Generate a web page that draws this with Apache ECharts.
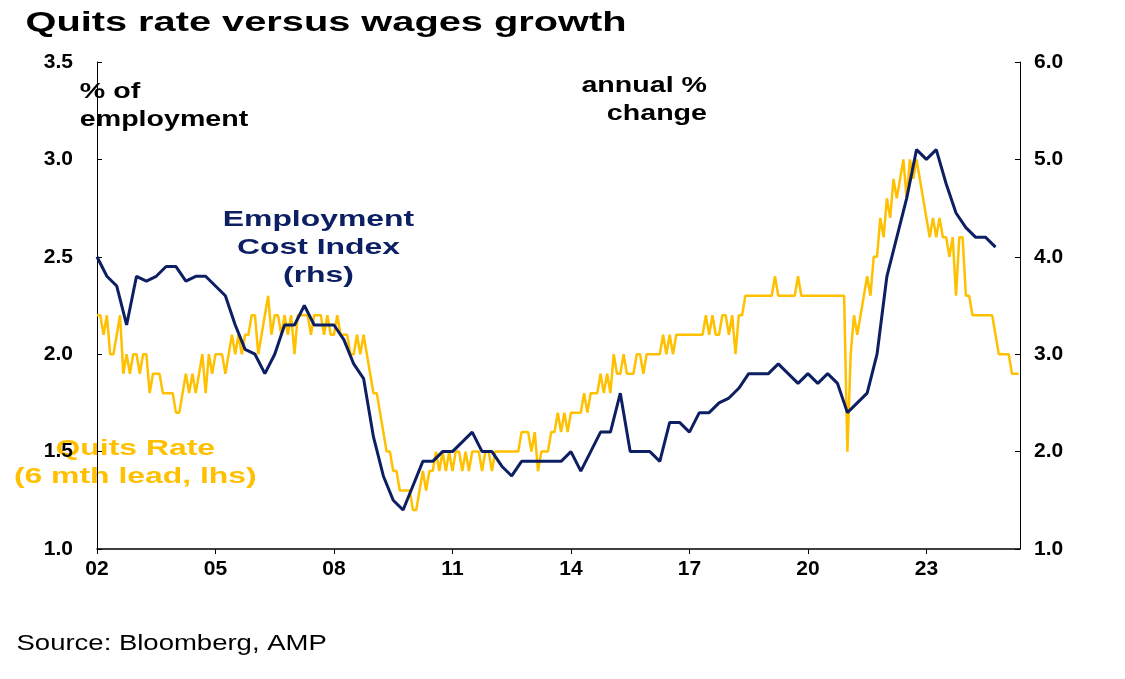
<!DOCTYPE html>
<html><head><meta charset="utf-8">
<script src="https://cdn.jsdelivr.net/npm/echarts@6/dist/echarts.min.js"></script>
<style>html,body{margin:0;padding:0;background:#fff}#c{width:1125px;height:679px}</style>
</head><body><div id="c"></div>
<script>
// ECI, annual % change, quarterly from 2002 Q1 (rhs)
var eciValues=[4.0,3.8,3.7,3.3,3.8,3.75,3.8,3.9,3.9,3.75,3.8,3.8,3.7,3.6,3.3,3.05,3.0,2.8,3.0,3.3,
3.3,3.5,3.3,3.3,3.3,3.15,2.9,2.75,2.15,1.75,1.5,1.4,1.65,1.9,1.9,2.0,2.0,2.1,2.2,2.0,
2.0,1.85,1.75,1.9,1.9,1.9,1.9,1.9,2.0,1.8,2.0,2.2,2.2,2.6,2.0,2.0,2.0,1.9,2.3,2.3,
2.2,2.4,2.4,2.5,2.55,2.65,2.8,2.8,2.8,2.9,2.8,2.7,2.8,2.7,2.8,2.7,2.4,2.5,2.6,3.0,
3.8,4.2,4.6,5.1,5.0,5.1,4.75,4.45,4.3,4.2,4.2,4.1];
// Quits rate, % of employment, monthly from Jan 2002, 6 month lead (lhs)
var quitsValues=[
2.2,2.2,2.1,2.2,2.0,2.0,2.1,2.2,1.9,2.0,1.9,2.0,
2.0,1.9,2.0,2.0,1.8,1.9,1.9,1.9,1.8,1.8,1.8,1.8,
1.7,1.7,1.8,1.9,1.8,1.9,1.8,1.9,2.0,1.8,2.0,1.9,
2.0,2.0,2.0,1.9,2.0,2.1,2.0,2.1,2.0,2.1,2.1,2.2,
2.2,2.0,2.1,2.2,2.3,2.1,2.2,2.2,2.1,2.2,2.1,2.2,
2.0,2.2,2.2,2.2,2.2,2.1,2.2,2.2,2.2,2.1,2.2,2.1,
2.1,2.2,2.1,2.1,2.1,2.0,2.0,2.1,2.0,2.1,2.0,1.9,
1.8,1.8,1.7,1.6,1.5,1.5,1.4,1.4,1.3,1.3,1.3,1.3,
1.2,1.2,1.3,1.4,1.3,1.4,1.4,1.5,1.4,1.5,1.4,1.5,
1.4,1.5,1.5,1.4,1.5,1.4,1.5,1.5,1.5,1.4,1.5,1.5,
1.4,1.5,1.5,1.5,1.5,1.5,1.5,1.5,1.5,1.6,1.6,1.6,
1.5,1.6,1.4,1.5,1.5,1.5,1.6,1.6,1.7,1.6,1.7,1.6,
1.7,1.7,1.7,1.7,1.8,1.7,1.8,1.8,1.8,1.9,1.8,1.9,
1.8,2.0,1.9,1.9,2.0,1.9,1.9,1.9,2.0,2.0,1.9,2.0,
2.0,2.0,2.0,2.0,2.1,2.0,2.1,2.0,2.1,2.1,2.1,2.1,
2.1,2.1,2.1,2.1,2.1,2.2,2.1,2.2,2.1,2.1,2.2,2.2,
2.1,2.2,2.0,2.2,2.2,2.3,2.3,2.3,2.3,2.3,2.3,2.3,
2.3,2.3,2.4,2.3,2.3,2.3,2.3,2.3,2.3,2.4,2.3,2.3,
2.3,2.3,2.3,2.3,2.3,2.3,2.3,2.3,2.3,2.3,2.3,2.3,
1.5,2.0,2.2,2.1,2.2,2.3,2.4,2.3,2.5,2.5,2.7,2.6,
2.8,2.7,2.9,2.8,2.9,3.0,2.8,3.0,2.9,3.0,2.9,2.8,
2.7,2.6,2.7,2.6,2.7,2.6,2.6,2.5,2.6,2.3,2.6,2.6,
2.3,2.3,2.2,2.2,2.2,2.2,2.2,2.2,2.2,2.1,2.0,2.0,
2.0,2.0,1.9,1.9,1.9];
var startYear=2002;
var leftTicks=[1.0,3.5,0.5];   // min,max,interval
var rightTicks=[1.0,6.0,1.0];

var eciData=eciValues.map(function(v,i){return [i/4,v];});
var quitsData=quitsValues.map(function(v,i){return [i/12,v];});

var chart=echarts.init(document.getElementById('c'));
var font='Arial, "Liberation Sans", sans-serif';
var labelFont={fontFamily:font,fontSize:21,fontWeight:'bold',color:'#000'};
function wide(x,y,text,size,color,align,sx,bold){
    return {type:'text',x:x,y:y,scaleX:sx,originX:x,originY:y,
        style:{text:text,font:(bold?'bold ':'')+size+'px '+font,fill:color,align:align,lineHeight:Math.round(size*1.25)}};
}
chart.setOption({
    animation:false,
    grid:{left:97,right:105,top:62,bottom:130},
    xAxis:{type:'value',min:0,max:23.37,interval:3,
        axisLine:{lineStyle:{color:'#000',width:1.5}},
        axisTick:{show:true,length:5,lineStyle:{color:'#000'}},
        splitLine:{show:false},
        axisLabel:Object.assign({margin:10,
            formatter:function(v){var y=(startYear+v)%100;return (y<10?'0':'')+y;}},labelFont)},
    yAxis:[{type:'value',min:leftTicks[0],max:leftTicks[1],interval:leftTicks[2],
        axisLine:{show:true,lineStyle:{color:'#000',width:1}},axisTick:{show:true,length:5,inside:true,lineStyle:{color:'#000'}},
        splitLine:{show:false},
        axisLabel:Object.assign({margin:24,formatter:function(v){return v.toFixed(1);}},labelFont)},
        {type:'value',min:rightTicks[0],max:rightTicks[1],interval:rightTicks[2],
        axisLine:{show:true,lineStyle:{color:'#000',width:1}},axisTick:{show:true,length:5,inside:true,lineStyle:{color:'#000'}},
        splitLine:{show:false},
        axisLabel:Object.assign({margin:14,formatter:function(v){return v.toFixed(1);}},labelFont)}],
    series:[
        {name:'Quits Rate',type:'line',yAxisIndex:0,data:quitsData,showSymbol:false,
            lineStyle:{color:'#FFC000',width:2.5},itemStyle:{color:'#FFC000'}},
        {name:'Employment Cost Index',type:'line',yAxisIndex:1,data:eciData,showSymbol:false,
            lineStyle:{color:'#0D1F63',width:3},itemStyle:{color:'#0D1F63'}}
    ],
    graphic:[
        wide(562,6,'Quits rate versus wages growth',28,'#000','center',1.42,true),
        wide(114,78,'% of\nemployment',22,'#000','left',1.3,true),
        wide(1010,72,'annual %\nchange',22,'#000','right',1.3,true),
        wide(579,206,'Employment\nCost Index\n(rhs)',22,'#0D1F63','center',1.45,true),
        wide(246,435,'Quits Rate\n(6 mth lead, lhs)',22,'#FFC000','center',1.45,true),
        wide(22,630,'Source: Bloomberg, AMP',22,'#000','left',1.25,false)
    ]
});
</script></body></html>
